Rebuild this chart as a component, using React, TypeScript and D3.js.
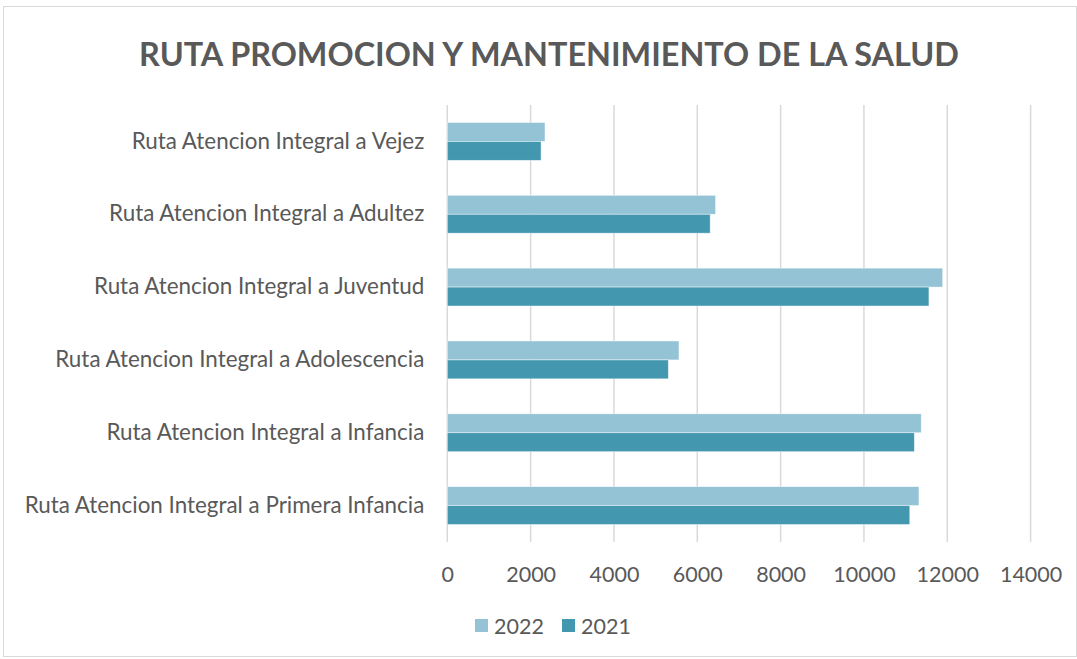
import { useEffect, useRef } from 'react';
import * as d3 from 'd3';

const categories = [
  'Ruta Atencion Integral a Vejez',
  'Ruta Atencion Integral a Adultez',
  'Ruta Atencion Integral a Juventud',
  'Ruta Atencion Integral a Adolescencia',
  'Ruta Atencion Integral a Infancia',
  'Ruta Atencion Integral a Primera Infancia',
];
const values2022 = [2345, 6440, 11890, 5560, 11375, 11320];
const values2021 = [2250, 6310, 11560, 5305, 11210, 11100];
const seriesNames = ['2022', '2021'];
const xTicks = [0, 2000, 4000, 6000, 8000, 10000, 12000, 14000];

const colors = ['#93C3D5', '#4398B0'];
const textColor = '#595959';
const font = 'Lato, "Open Sans", sans-serif';

const App = () => {
  const svgRef = useRef<SVGSVGElement>(null);

  useEffect(() => {
    const width = 1077;
    const height = 659;
    const plot = { left: 447.3, right: 1030.6, top: 105, bottom: 542 };

    const svg = d3.select(svgRef.current)
      .attr('width', width)
      .attr('height', height);
    svg.selectAll('*').remove();

    // chart frame
    svg.append('rect')
      .attr('x', 3.5).attr('y', 6.5)
      .attr('width', width - 4).attr('height', height - 9)
      .attr('fill', '#fff')
      .attr('stroke', '#d9d9d9');

    svg.append('text')
      .attr('x', 549)
      .attr('y', 66)
      .attr('text-anchor', 'middle')
      .attr('font-family', font)
      .attr('font-weight', 'bold')
      .attr('font-size', 32.4)
      .attr('fill', textColor)
      .text('RUTA PROMOCION Y MANTENIMIENTO DE LA SALUD');

    const xScale = d3.scaleLinear()
      .domain([0, 14000])
      .range([plot.left, plot.right]);

    const yScale = d3.scaleBand()
      .domain(categories)
      .range([plot.top, plot.bottom])
      .paddingInner(0.48)
      .paddingOuter(0.24);

    const inner = d3.scaleBand()
      .domain(seriesNames)
      .range([0, yScale.bandwidth()]);

    // gridlines
    svg.append('g')
      .selectAll('line')
      .data(xTicks)
      .enter().append('line')
      .attr('x1', d => xScale(d))
      .attr('x2', d => xScale(d))
      .attr('y1', plot.top)
      .attr('y2', plot.bottom)
      .attr('stroke', '#d9d9d9')
      .attr('stroke-width', 1.5);

    const xAxis = svg.append('g')
      .attr('transform', `translate(0, ${plot.bottom})`)
      .call(d3.axisBottom(xScale).tickValues(xTicks).tickFormat(d3.format('d')).tickSize(0).tickPadding(25));
    xAxis.select('.domain').remove();
    xAxis.selectAll('text')
      .attr('font-family', font)
      .attr('font-size', 21.5)
      .attr('fill', textColor);

    const yAxis = svg.append('g')
      .attr('transform', `translate(${plot.left}, 0)`)
      .call(d3.axisLeft(yScale).tickSize(0).tickPadding(23));
    yAxis.select('.domain').remove();
    yAxis.selectAll('text')
      .attr('font-family', font)
      .attr('font-size', 22.4)
      .attr('fill', textColor);

    const series = [values2022, values2021];
    svg.selectAll('.series')
      .data(series)
      .enter().append('g')
      .attr('class', 'series')
      .attr('fill', (_, i) => colors[i])
      .each(function (vals, si) {
        d3.select(this).selectAll('rect')
          .data(vals)
          .enter().append('rect')
          .attr('x', xScale(0))
          .attr('y', (_, i) => (yScale(categories[i]) ?? 0) + (inner(seriesNames[si]) ?? 0))
          .attr('width', d => xScale(d) - xScale(0))
          .attr('height', inner.bandwidth())
          .attr('stroke', '#ffffff')
          .attr('stroke-opacity', 0.6)
          .attr('stroke-width', 0.75);
      });

    // legend
    const legend = svg.append('g').attr('transform', 'translate(475, 626)');
    const items = legend.selectAll('g')
      .data(seriesNames)
      .enter().append('g')
      .attr('transform', (_, i) => `translate(${i * 87}, 0)`);
    items.append('rect')
      .attr('x', 0).attr('y', -7)
      .attr('width', 13).attr('height', 13)
      .attr('fill', (_, i) => colors[i]);
    items.append('text')
      .attr('x', 19)
      .attr('y', 0)
      .attr('dy', '0.35em')
      .attr('font-family', font)
      .attr('font-size', 21.5)
      .attr('fill', textColor)
      .text(d => d);
  }, []);

  return (
    <div style={{ position: 'absolute', left: 0, top: 0 }}>
      <svg ref={svgRef} style={{ display: 'block' }} />
    </div>
  );
};

export default App;
